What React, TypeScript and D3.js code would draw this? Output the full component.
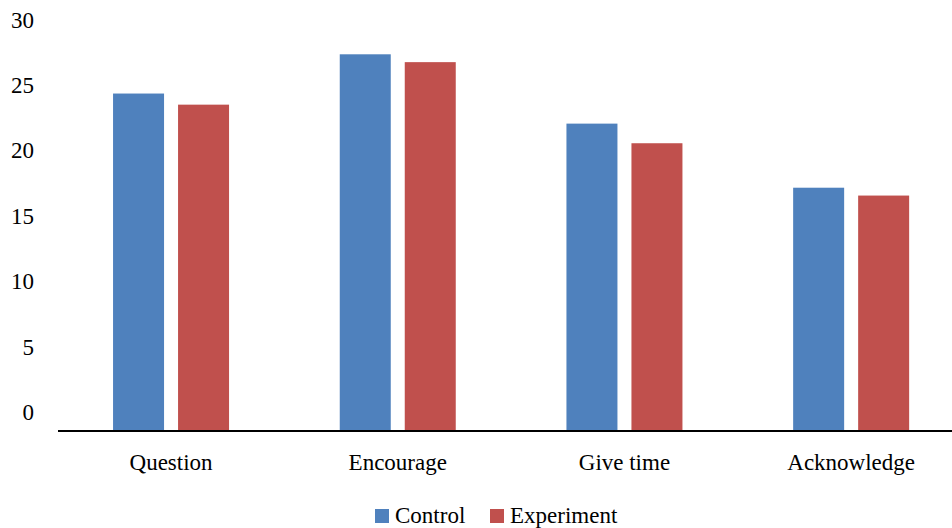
import React from "react";
import * as d3 from "d3";

const categories = ["Question", "Encourage", "Give time", "Acknowledge"];
const seriesNames = ["Control", "Experiment"];
const controlValues = [25.8, 28.8, 23.5, 18.6];
const experimentValues = [24.95, 28.2, 22.0, 18.0];
const yTicks = [0, 5, 10, 15, 20, 25, 30];
const colors = ["#4F81BD", "#C0504D"];

const W = 952;
const H = 528;
const FONT = "Liberation Serif, Times New Roman, DejaVu Serif, serif";

export default function App() {
  const x = d3.scaleBand<string>().domain(categories).range([57.7, 964.5]).paddingInner(0).paddingOuter(0);
  const y = d3.scaleLinear().domain([0, 30]).range([431, 38.6]);
  const bw = 51;
  const gap = 14;
  const series = [controlValues, experimentValues];
  const ts: React.CSSProperties = { fontFamily: FONT, fontSize: "23px" };

  return (
    <svg width={W} height={H} style={{ position: "absolute", left: 0, top: 0, background: "#fff" }}>
      {yTicks.map((t) => (
        <text key={t} x={34} y={y(t) - 11} textAnchor="end" style={ts} fill="#000">
          {t}
        </text>
      ))}
      {categories.map((c, i) => {
        const cx = (x(c) as number) + x.bandwidth() / 2;
        return (
          <g key={c}>
            {series.map((s, j) => {
              const bx = j === 0 ? cx - gap / 2 - bw : cx + gap / 2;
              return (
                <rect key={j} x={bx} y={y(s[i])} width={bw} height={y(0) - y(s[i])} fill={colors[j]} />
              );
            })}
            <text x={cx} y={470} textAnchor="middle" style={ts} fill="#000">
              {c}
            </text>
          </g>
        );
      })}
      <line x1={58} x2={W} y1={431} y2={431} stroke="#000" strokeWidth={2} />
      <g>
        <rect x={375} y={509} width={14} height={14} fill={colors[0]} />
        <text x={395} y={523} style={ts} fill="#000">{seriesNames[0]}</text>
        <rect x={490} y={509} width={14} height={14} fill={colors[1]} />
        <text x={510} y={523} style={ts} fill="#000">{seriesNames[1]}</text>
      </g>
    </svg>
  );
}
